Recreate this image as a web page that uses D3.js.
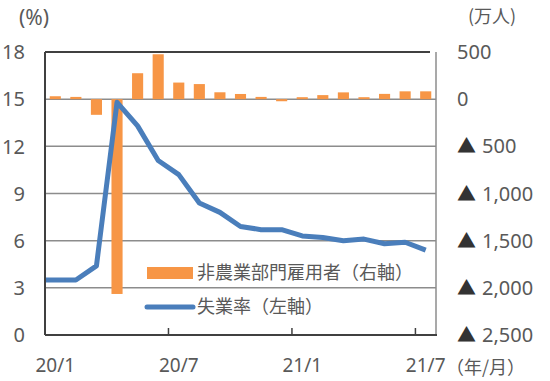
<!DOCTYPE html>
<html><head><meta charset="utf-8">
<script src="https://cdn.jsdelivr.net/npm/d3@7"></script>
<style>body{margin:0;background:#fff}svg{display:block}text{font-family:"Noto Sans","Noto Sans CJK JP",sans-serif;fill:#595959}.cjk{font-family:"Noto Sans CJK JP","Noto Sans",sans-serif}</style>
</head><body>
<svg id="c" width="550" height="381"></svg>
<script>
const months = ["20/1","20/2","20/3","20/4","20/5","20/6","20/7","20/8","20/9","20/10","20/11","20/12","21/1","21/2","21/3","21/4","21/5","21/6","21/7"];
const payrolls = [31, 24, -166, -2065, 275, 476, 176, 160, 73, 55, 24, -22, 21, 43, 72, 21, 56, 83, 83];
const unemployment = [3.5, 3.5, 4.4, 14.8, 13.3, 11.1, 10.2, 8.4, 7.8, 6.9, 6.7, 6.7, 6.3, 6.2, 6.0, 6.1, 5.8, 5.9, 5.4];
const leftTicks = [0, 3, 6, 9, 12, 15, 18];
const rightTicks = [500, 0, -500, -1000, -1500, -2000, -2500];
const xLabels = ["20/1", "20/7", "21/1", "21/7"];
const legendLabels = ["非農業部門雇用者（右軸）", "失業率（左軸）"];

const svg = d3.select("#c");
const L = 45, R = 436, T = 52, B = 335;
const x = d3.scaleBand().domain(months).range([L, R]);
const yL = d3.scaleLinear().domain([0, 18]).range([B, T]);
const yR = d3.scaleLinear().domain([-2500, 500]).range([B, T]);
const bw = x.bandwidth();
const orange = "#F79646", blue = "#4A7EBB";

// gridlines
svg.append("g").selectAll("line").data(leftTicks.filter(d => d > 0 && d < 18)).join("line")
  .attr("x1", L).attr("x2", R).attr("y1", d => yL(d)).attr("y2", d => yL(d))
  .attr("stroke", "#8c8c8c").attr("stroke-width", 1.5);
// top border
svg.append("line").attr("x1", L).attr("x2", R - 6).attr("y1", yL(18)).attr("y2", yL(18))
  .attr("stroke", "#404040").attr("stroke-width", 1.8);
// right border
svg.append("line").attr("x1", R).attr("x2", R).attr("y1", T).attr("y2", B)
  .attr("stroke", "#8c8c8c").attr("stroke-width", 1.5);

// bars
svg.append("g").selectAll("rect").data(months).join("rect")
  .attr("x", (m) => x(m) + bw * 0.23)
  .attr("width", bw * 0.54)
  .attr("y", (m, i) => yR(Math.max(0, payrolls[i])))
  .attr("height", (m, i) => Math.abs(yR(payrolls[i]) - yR(0)))
  .attr("fill", orange);

// line
const pts = months.map((m, i) => [x(m) + bw / 2, yL(unemployment[i])]);
pts.unshift([L, yL(unemployment[0])]);
svg.append("path").attr("d", d3.line()(pts))
  .attr("fill", "none").attr("stroke", blue).attr("stroke-width", 5)
  .attr("stroke-linejoin", "round");

// axes lines
svg.append("line").attr("x1", L).attr("x2", L).attr("y1", T).attr("y2", B)
  .attr("stroke", "#404040").attr("stroke-width", 2);
svg.append("line").attr("x1", L).attr("x2", R + 1).attr("y1", B).attr("y2", B)
  .attr("stroke", "#404040").attr("stroke-width", 2);
// x ticks (category boundaries)
svg.append("g").selectAll("line").data(xLabels.slice(1)).join("line")
  .attr("x1", d => x(d)).attr("x2", d => x(d)).attr("y1", B).attr("y2", B - 7)
  .attr("stroke", "#404040").attr("stroke-width", 1.5);

// left labels
svg.append("g").selectAll("text").data(leftTicks).join("text")
  .attr("x", 25).attr("y", d => yL(d)).attr("dy", "0.36em")
  .attr("text-anchor", "end").attr("font-size", 20).text(d => d);
// right labels
const fmt = d3.format(",");
const rl = svg.append("g").selectAll("text").data(rightTicks).join("text")
  .attr("x", 457).attr("y", d => yR(d) + 7).attr("font-size", 20);
rl.filter(d => d < 0).append("tspan").attr("font-size", 19).style("fill", "#333").text("▲");
rl.append("tspan").attr("x", d => d < 0 ? 482 : 457).text(d => fmt(Math.abs(d)));
// x labels
svg.append("g").selectAll("text").data(xLabels).join("text")
  .attr("x", d => x(d) + bw / 2).attr("y", 365).attr("dy", "0.36em")
  .attr("text-anchor", "middle").attr("font-size", 19).text(d => d);

// units
svg.append("text").attr("x", 19).attr("y", 17).attr("dy", "0.36em").attr("font-size", 21).text("(%)");
svg.append("text").attr("class", "cjk").attr("x", 468).attr("y", 17).attr("dy", "0.36em").attr("font-size", 18).text("(万人)");
svg.append("text").attr("class", "cjk").attr("x", 446).attr("y", 368).attr("dy", "0.36em").attr("font-size", 18).text("（年/月）");

// legend
const lg = svg.append("g");
lg.append("rect").attr("x", 147).attr("y", 267).attr("width", 46).attr("height", 12).attr("fill", orange);
lg.append("line").attr("x1", 147).attr("x2", 193).attr("y1", 307).attr("y2", 307)
  .attr("stroke", blue).attr("stroke-width", 5).attr("stroke-linecap", "round");
lg.selectAll("text").data(legendLabels).join("text").attr("class", "cjk")
  .attr("x", 197).attr("y", (d, i) => 273 + i * 34).attr("dy", "0.36em")
  .attr("font-size", 18).text(d => d);
</script>
</body></html>
